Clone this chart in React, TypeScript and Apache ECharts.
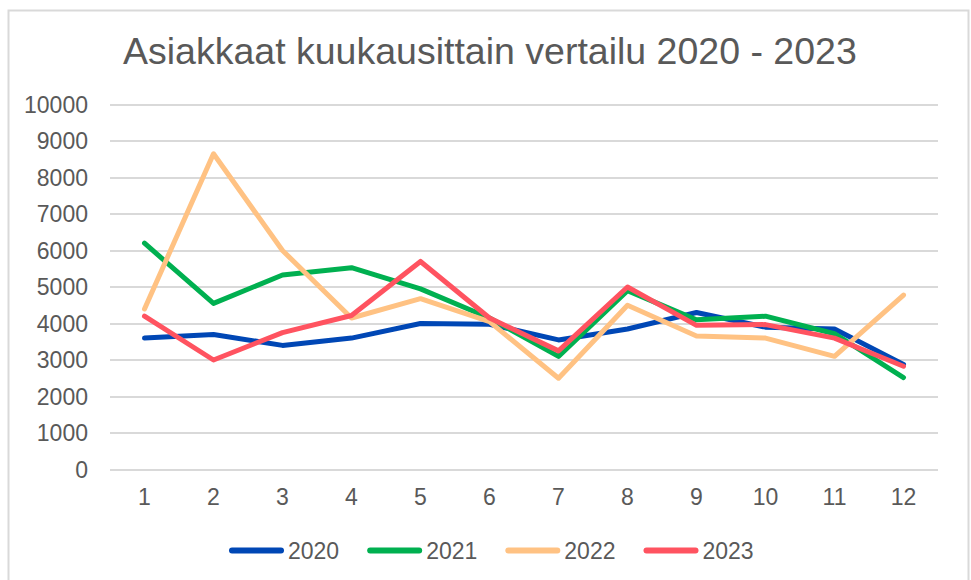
import React, { useEffect, useRef } from "react";
import * as echarts from "echarts";

const months = ["1", "2", "3", "4", "5", "6", "7", "8", "9", "10", "11", "12"];
const years = ["2020", "2021", "2022", "2023"];
const s2020 = [3600, 3700, 3400, 3600, 4000, 3980, 3550, 3850, 4300, 3900, 3850, 2880];
const s2021 = [6200, 4550, 5330, 5530, 4950, 4150, 3100, 4900, 4100, 4200, 3720, 2520];
const s2022 = [4400, 8650, 6000, 4150, 4680, 4050, 2500, 4500, 3660, 3600, 3100, 4780];
const s2023 = [4200, 3000, 3750, 4220, 5700, 4150, 3250, 5000, 3950, 3970, 3600, 2830];
const colors = ["#0047B5", "#00B050", "#FFC283", "#FF5360"];

export default function App() {
  const ref = useRef<HTMLDivElement>(null);
  useEffect(() => {
    if (!ref.current) return;
    const chart = echarts.init(ref.current, null, { renderer: "svg" });
    const font = "'Liberation Sans', Arial, sans-serif";
    const data = [s2020, s2021, s2022, s2023];
    chart.setOption({
      animation: false,
      backgroundColor: "#ffffff",
      textStyle: { fontFamily: font },
      title: {
        text: "Asiakkaat kuukausittain vertailu 2020 - 2023",
        left: 118,
        top: 27,
        textStyle: { fontFamily: font, fontSize: 37.5, fontWeight: "normal", color: "#595959" },
      },
      graphic: [
        {
          type: "rect",
          shape: { x: 8.5, y: 10.5, width: 960, height: 600 },
          style: { fill: "none", stroke: "#d9d9d9", lineWidth: 2 },
          silent: true,
        },
      ],
      legend: {
        data: years.map((y) => ({
          name: y,
          icon: "path://M3,0 H52 A3,3 0 0 1 52,6 H3 A3,3 0 0 1 3,0 Z",
        })),
        bottom: 13,
        left: 224,
        itemWidth: 55,
        itemHeight: 6,
        itemGap: 28,
        textStyle: { fontFamily: font, fontSize: 23, color: "#595959", padding: [0, 0, 0, -1] },
      },
      grid: { left: 110, right: 33, top: 104.5, bottom: 110.5, containLabel: false },
      xAxis: {
        type: "category",
        data: months,
        boundaryGap: true,
        axisLine: { show: false },
        axisTick: { show: false },
        axisLabel: { fontFamily: font, fontSize: 23, color: "#595959", margin: 16 },
      },
      yAxis: {
        type: "value",
        min: 0,
        max: 10000,
        interval: 1000,
        axisLine: { show: false },
        axisTick: { show: false },
        axisLabel: {
          fontFamily: font,
          fontSize: 23,
          color: "#595959",
          margin: 22,
          formatter: (v: number) => String(v),
        },
        splitLine: { lineStyle: { color: "#d9d9d9", width: 2 } },
      },
      series: years.map((y, i) => ({
        name: y,
        type: "line",
        data: data[i],
        symbol: "none",
        showSymbol: false,
        color: colors[i],
        itemStyle: { color: colors[i] },
        lineStyle: { color: colors[i], width: 5, cap: "round", join: "round" },
      })),
    });
    return () => chart.dispose();
  }, []);
  return (
    <div
      ref={ref}
      style={{ position: "fixed", left: 0, top: 0, width: 971, height: 580 }}
    />
  );
}
